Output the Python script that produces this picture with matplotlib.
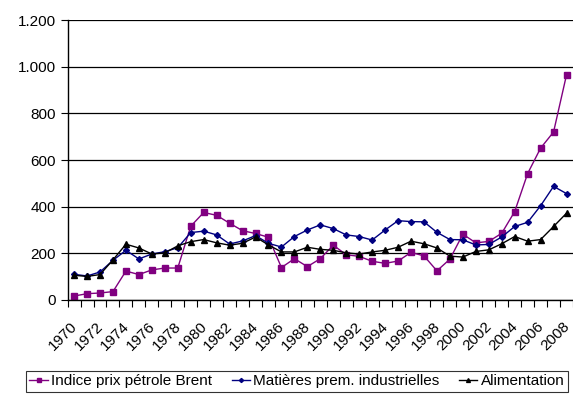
import numpy as np
import matplotlib.pyplot as plt
from matplotlib.transforms import ScaledTranslation

plt.rcParams['font.family'] = ['Liberation Sans', 'DejaVu Sans']

# Indices annuels 1970-2008
annees = list(range(1970, 2009))

brent = [17, 27, 30, 36, 124, 109, 129, 137, 137, 316, 375, 363, 329, 297,
         285, 269, 139, 177, 143, 177, 235, 194, 187, 166, 157, 167, 204, 189,
         125, 175, 282, 245, 251, 286, 379, 542, 651, 720, 965]

matieres = [110, 103, 120, 170, 213, 176, 197, 207, 224, 289, 295, 279, 240, 253,
            276, 243, 227, 272, 300, 322, 306, 279, 272, 257, 300, 340, 336, 335,
            290, 259, 258, 236, 238, 270, 315, 333, 404, 487, 456]

alimentation = [106, 101, 109, 172, 239, 223, 197, 202, 232, 250, 259, 245, 235, 243,
                270, 236, 206, 206, 226, 217, 213, 202, 197, 206, 213, 226, 252, 241,
                223, 188, 184, 208, 215, 241, 272, 252, 259, 315, 372]

x = np.arange(len(annees))

fig = plt.figure(figsize=(5.73, 3.94), dpi=100)
ax = fig.add_axes([0.118, 0.2386, 0.882, 0.7106])

ax.plot(x, brent, color='#800080', marker='s', markersize=4.5, linewidth=1,
        label='Indice prix pétrole Brent')
ax.plot(x, matieres, color='#000080', marker='D', markersize=3, linewidth=1,
        label='Matières prem. industrielles')
ax.plot(x, alimentation, color='black', marker='^', markersize=4, linewidth=1,
        label='Alimentation')

ax.set_ylim(0, 1200)
ax.set_xlim(-0.5, len(annees) - 0.5)
yticks = np.arange(0, 1201, 200)
ax.set_yticks(yticks)
ax.set_yticklabels([f'{v:,}'.replace(',', '.') for v in yticks], fontsize=11)
ax.yaxis.grid(True, color='black', linewidth=0.9)
ax.set_axisbelow(True)

# traits de graduation entre les catégories, étiquettes une année sur deux
ax.set_xticks(np.arange(-0.5, len(annees)), minor=False)
ax.set_xticklabels([])
ax.set_xticks(x[::2], minor=True)
ax.set_xticklabels([str(a) for a in annees[::2]], minor=True, fontsize=11,
                   rotation=45, ha='right', rotation_mode='anchor')
ax.tick_params(axis='x', which='major', length=5, direction='out', color='black')
ax.tick_params(axis='x', which='minor', length=0, pad=14)
ax.tick_params(axis='y', length=5, direction='out', color='black')

# léger décalage des années vers la gauche
decalage = ScaledTranslation(-4 / 100, 0, fig.dpi_scale_trans)
for lab in ax.get_xticklabels(minor=True):
    lab.set_transform(lab.get_transform() + decalage)

for s in ['top', 'right']:
    ax.spines[s].set_visible(False)
for s in ['left', 'bottom']:
    ax.spines[s].set_color('black')
    ax.spines[s].set_linewidth(1)

leg = fig.legend(loc='center', bbox_to_anchor=(0.518, 0.032),
                 ncol=3, fontsize=11, frameon=True, fancybox=False,
                 edgecolor='black', handlelength=1.2, handletextpad=0.2,
                 columnspacing=1.3, borderpad=0.25, markerscale=0.7)
leg.get_frame().set_linewidth(0.8)

fig.savefig('out.png', dpi=100)
